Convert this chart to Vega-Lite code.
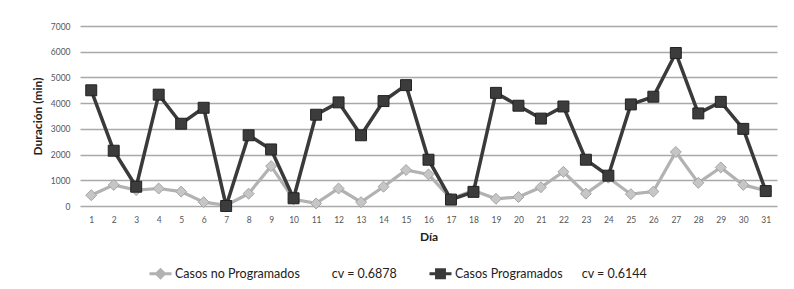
{
  "$schema": "https://vega.github.io/schema/vega-lite/v6.json",
  "width": 697,
  "height": 180,
  "autosize": "none",
  "padding": {"left": 80, "top": 26, "right": 17, "bottom": 83},
  "background": "white",
  "config": {"view": {"stroke": null}, "font": "Lato"},
  "data": {"values": [
    {"dia": 1, "serie": "Casos Programados", "min": 4500},
    {"dia": 2, "serie": "Casos Programados", "min": 2150},
    {"dia": 3, "serie": "Casos Programados", "min": 750},
    {"dia": 4, "serie": "Casos Programados", "min": 4330},
    {"dia": 5, "serie": "Casos Programados", "min": 3200},
    {"dia": 6, "serie": "Casos Programados", "min": 3820},
    {"dia": 7, "serie": "Casos Programados", "min": 0},
    {"dia": 8, "serie": "Casos Programados", "min": 2750},
    {"dia": 9, "serie": "Casos Programados", "min": 2200},
    {"dia": 10, "serie": "Casos Programados", "min": 300},
    {"dia": 11, "serie": "Casos Programados", "min": 3550},
    {"dia": 12, "serie": "Casos Programados", "min": 4030},
    {"dia": 13, "serie": "Casos Programados", "min": 2750},
    {"dia": 14, "serie": "Casos Programados", "min": 4080},
    {"dia": 15, "serie": "Casos Programados", "min": 4700},
    {"dia": 16, "serie": "Casos Programados", "min": 1800},
    {"dia": 17, "serie": "Casos Programados", "min": 250},
    {"dia": 18, "serie": "Casos Programados", "min": 550},
    {"dia": 19, "serie": "Casos Programados", "min": 4400},
    {"dia": 20, "serie": "Casos Programados", "min": 3900},
    {"dia": 21, "serie": "Casos Programados", "min": 3400},
    {"dia": 22, "serie": "Casos Programados", "min": 3870},
    {"dia": 23, "serie": "Casos Programados", "min": 1800},
    {"dia": 24, "serie": "Casos Programados", "min": 1180},
    {"dia": 25, "serie": "Casos Programados", "min": 3950},
    {"dia": 26, "serie": "Casos Programados", "min": 4250},
    {"dia": 27, "serie": "Casos Programados", "min": 5950},
    {"dia": 28, "serie": "Casos Programados", "min": 3600},
    {"dia": 29, "serie": "Casos Programados", "min": 4050},
    {"dia": 30, "serie": "Casos Programados", "min": 3000},
    {"dia": 31, "serie": "Casos Programados", "min": 580},
    {"dia": 1, "serie": "Casos no Programados", "min": 420},
    {"dia": 2, "serie": "Casos no Programados", "min": 820},
    {"dia": 3, "serie": "Casos no Programados", "min": 620},
    {"dia": 4, "serie": "Casos no Programados", "min": 680},
    {"dia": 5, "serie": "Casos no Programados", "min": 560},
    {"dia": 6, "serie": "Casos no Programados", "min": 150},
    {"dia": 7, "serie": "Casos no Programados", "min": 30},
    {"dia": 8, "serie": "Casos no Programados", "min": 480},
    {"dia": 9, "serie": "Casos no Programados", "min": 1550},
    {"dia": 10, "serie": "Casos no Programados", "min": 260},
    {"dia": 11, "serie": "Casos no Programados", "min": 100},
    {"dia": 12, "serie": "Casos no Programados", "min": 680},
    {"dia": 13, "serie": "Casos no Programados", "min": 150},
    {"dia": 14, "serie": "Casos no Programados", "min": 750},
    {"dia": 15, "serie": "Casos no Programados", "min": 1400},
    {"dia": 16, "serie": "Casos no Programados", "min": 1230},
    {"dia": 17, "serie": "Casos no Programados", "min": 280},
    {"dia": 18, "serie": "Casos no Programados", "min": 600},
    {"dia": 19, "serie": "Casos no Programados", "min": 280},
    {"dia": 20, "serie": "Casos no Programados", "min": 350},
    {"dia": 21, "serie": "Casos no Programados", "min": 730},
    {"dia": 22, "serie": "Casos no Programados", "min": 1330},
    {"dia": 23, "serie": "Casos no Programados", "min": 480},
    {"dia": 24, "serie": "Casos no Programados", "min": 1100},
    {"dia": 25, "serie": "Casos no Programados", "min": 460},
    {"dia": 26, "serie": "Casos no Programados", "min": 560},
    {"dia": 27, "serie": "Casos no Programados", "min": 2100},
    {"dia": 28, "serie": "Casos no Programados", "min": 900},
    {"dia": 29, "serie": "Casos no Programados", "min": 1500},
    {"dia": 30, "serie": "Casos no Programados", "min": 820},
    {"dia": 31, "serie": "Casos no Programados", "min": 600}
  ]},
  "encoding": {
    "x": {
      "field": "dia", "type": "ordinal", "title": "Día",
      "scale": {"padding": 0.5},
      "axis": {"labelAngle": 0, "grid": false, "domain": false, "ticks": false, "labelPadding": 9, "labelFontSize": 8.5, "labelColor": "#555", "titleFontSize": 12, "titleFontWeight": "bold", "titleColor": "#222", "titlePadding": 8}
    },
    "y": {
      "field": "min", "type": "quantitative", "title": "Duración (min)",
      "scale": {"domain": [0, 7000]},
      "axis": {"values": [0, 1000, 2000, 3000, 4000, 5000, 6000, 7000], "format": "d", "labelFontSize": 8.5, "labelColor": "#555", "labelPadding": 10, "ticks": false, "domain": false, "gridColor": "#a9a9a9", "gridWidth": 1.5, "titleFontSize": 12, "titleFontWeight": "bold", "titleColor": "#222", "titlePadding": 6}
    }
  },
  "layer": [
    {
      "transform": [{"filter": "datum.serie == 'Casos no Programados'"}],
      "mark": {"type": "line", "strokeWidth": 3.2},
      "encoding": {
        "color": {
          "field": "serie", "type": "nominal",
          "scale": {"domain": ["Casos no Programados", "Casos Programados"], "range": ["#b2b2b2", "#3a3a3a"]},
          "legend": {
            "orient": "none", "legendX": 68, "legendY": 235, "direction": "horizontal", "title": null,
            "symbolSize": 484, "symbolStrokeWidth": 3, "labelFontSize": 12.5, "labelColor": "#222", "labelOffset": 2, "columnPadding": 25, "labelLimit": 400,
            "labelExpr": "datum.label == 'Casos Programados' ? 'Casos Programados\u00a0\u00a0\u00a0\u00a0\u00a0\u00a0cv = 0.6144' : 'Casos no Programados\u00a0\u00a0\u00a0\u00a0\u00a0\u00a0\u00a0\u00a0\u00a0\u00a0cv = 0.6878'",
            "encode": {"symbols": {"update": {
              "shape": {"signal": "datum.value == 'Casos Programados' ? 'M-1,0H1M-0.36,-0.36H0.36V0.36H-0.36Z' : 'M-1,0H1M0,-0.36L0.36,0L0,0.36L-0.36,0Z'"},
              "fill": {"signal": "datum.value == 'Casos Programados' ? '#3a3a3a' : '#c4c4c4'"},
              "stroke": {"signal": "datum.value == 'Casos Programados' ? '#3a3a3a' : '#b2b2b2'"},
              "strokeWidth": {"value": 3},
              "opacity": {"value": 1}
            }}}
          }
        }
      }
    },
    {
      "transform": [{"filter": "datum.serie == 'Casos no Programados'"}],
      "mark": {"type": "point", "shape": "diamond", "filled": true, "size": 120, "fill": "#c6c6c6", "stroke": "#a4a4a4", "strokeWidth": 1, "opacity": 1}
    },
    {
      "transform": [{"filter": "datum.serie == 'Casos Programados'"}],
      "mark": {"type": "line", "strokeWidth": 3.5},
      "encoding": {"color": {"field": "serie", "type": "nominal"}}
    },
    {
      "transform": [{"filter": "datum.serie == 'Casos Programados'"}],
      "mark": {"type": "point", "shape": "square", "filled": true, "size": 120, "fill": "#3c3c3c", "stroke": "#222", "strokeWidth": 1, "opacity": 1}
    }
  ]
}
